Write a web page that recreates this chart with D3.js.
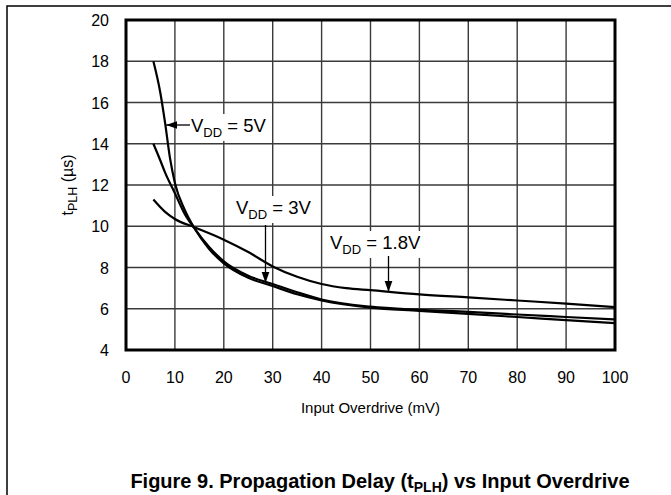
<!DOCTYPE html>
<html>
<head>
<meta charset="utf-8">
<script src="https://cdn.jsdelivr.net/npm/d3@7"></script>
<style>
  body { margin: 0; background: #fff; }
  svg { display: block; font-family: "Liberation Sans", Arial, sans-serif; }
</style>
</head>
<body>
<svg id="chart" width="671" height="495"></svg>
<script>
// propagation delay tPLH (us) vs input overdrive (mV), one curve per supply
const xTicks = [0, 10, 20, 30, 40, 50, 60, 70, 80, 90, 100];
const yTicks = [4, 6, 8, 10, 12, 14, 16, 18, 20];

const vdd5 = [[5.6, 18], [7, 16.5], [8, 15], [9, 13.3], [10, 12.1], [12, 10.8], [14, 9.9], [17, 8.9],
  [20, 8.2], [25, 7.5], [30, 7.1], [35, 6.7], [40, 6.4], [50, 6.05], [60, 5.9], [70, 5.75],
  [80, 5.6], [90, 5.45], [100, 5.3]];
const vdd3 = [[5.6, 14], [7, 13.2], [8, 12.6], [10, 11.6], [12, 10.6], [14, 9.9], [17, 9.0],
  [20, 8.3], [25, 7.6], [30, 7.2], [35, 6.8], [40, 6.45], [50, 6.1], [60, 5.95], [70, 5.85],
  [80, 5.72], [90, 5.6], [100, 5.48]];
const vdd18 = [[5.6, 11.3], [8, 10.7], [10, 10.35], [14, 9.95], [20, 9.35], [25, 8.75], [30, 8.05],
  [35, 7.55], [40, 7.2], [45, 7.0], [50, 6.9], [60, 6.7], [70, 6.55], [80, 6.4], [90, 6.25], [100, 6.08]];

const svg = d3.select("#chart");
const m = {left: 126, right: 615, top: 20, bottom: 350};

const x = d3.scaleLinear().domain([0, 100]).range([m.left, m.right]);
const y = d3.scaleLinear().domain([4, 20]).range([m.bottom, m.top]);

// outer figure frame (runs off the page to the right and bottom)
svg.append("path")
  .attr("d", "M7,500 L7,6 L680,6")
  .attr("fill", "none").attr("stroke", "#000").attr("stroke-width", 1.5);

// grid
const grid = svg.append("g").attr("stroke", "#3a3a3a").attr("stroke-width", 1.4);
grid.selectAll(".gx").data(xTicks.slice(1, -1)).join("line")
  .attr("x1", d => x(d)).attr("x2", d => x(d))
  .attr("y1", m.top).attr("y2", m.bottom);
grid.selectAll(".gy").data(yTicks.slice(1, -1)).join("line")
  .attr("y1", d => y(d)).attr("y2", d => y(d))
  .attr("x1", m.left).attr("x2", m.right);

// tick labels
svg.append("g").attr("font-size", 16).attr("text-anchor", "middle")
  .selectAll("text").data(xTicks).join("text")
  .attr("x", d => x(d)).attr("y", 383).text(d => d);
svg.append("g").attr("font-size", 16).attr("text-anchor", "end")
  .selectAll("text").data(yTicks).join("text")
  .attr("x", 109).attr("y", d => y(d) + 6).text(d => d);

// axis titles
svg.append("text").attr("x", (m.left + m.right) / 2).attr("y", 413)
  .attr("text-anchor", "middle").attr("font-size", 15).text("Input Overdrive (mV)");

const yl = svg.append("text")
  .attr("transform", `translate(73,${(m.top + m.bottom) / 2}) rotate(-90)`)
  .attr("text-anchor", "middle").attr("font-size", 16);
yl.append("tspan").text("t");
yl.append("tspan").attr("font-size", 12.5).attr("dy", 4).text("PLH");
yl.append("tspan").attr("dy", -4).text(" (\u00b5s)");

// annotation labels, white boxes hide the grid behind them
function vddLabel(px, py, val) {
  const g = svg.append("g");
  const bg = g.append("rect").attr("fill", "#fff");
  const t = g.append("text").attr("x", px).attr("y", py).attr("font-size", 18.5);
  t.append("tspan").text("V");
  t.append("tspan").attr("font-size", 13).attr("dy", 5).text("DD");
  t.append("tspan").attr("dy", -5).text(" = " + val);
  const b = t.node().getBBox();
  bg.attr("x", b.x - 2).attr("y", b.y - 1).attr("width", b.width + 4).attr("height", b.height + 2);
}
vddLabel(191, 132, "5V");
vddLabel(236, 214, "3V");
vddLabel(330, 249, "1.8V");

// curves
const line = d3.line().curve(d3.curveMonotoneX).x(d => x(d[0])).y(d => y(d[1]));
svg.append("g").attr("fill", "none").attr("stroke", "#000").attr("stroke-width", 2.2)
  .selectAll("path").data([vdd5, vdd3, vdd18]).join("path").attr("d", line);

// arrows
svg.append("defs").append("marker").attr("id", "ah")
  .attr("viewBox", "0 0 10 10").attr("refX", 10).attr("refY", 5)
  .attr("markerWidth", 11).attr("markerHeight", 11).attr("markerUnits", "userSpaceOnUse")
  .attr("orient", "auto")
  .append("path").attr("d", "M0,1.5 L10,5 L0,8.5 Z").attr("fill", "#000");

const arrows = [[190, 125, 166, 125], [265.5, 225, 265.5, 283], [388.5, 256, 388.5, 292]];
svg.append("g").selectAll("line").data(arrows).join("line")
  .attr("x1", d => d[0]).attr("y1", d => d[1]).attr("x2", d => d[2]).attr("y2", d => d[3])
  .attr("stroke", "#000").attr("stroke-width", 1.3).attr("marker-end", "url(#ah)");

// plot border
svg.append("rect").attr("x", m.left).attr("y", m.top)
  .attr("width", m.right - m.left).attr("height", m.bottom - m.top)
  .attr("fill", "none").attr("stroke", "#000").attr("stroke-width", 3);

// caption
const cap = svg.append("text").attr("x", 380).attr("y", 488)
  .attr("text-anchor", "middle").attr("font-size", 20).attr("font-weight", "bold");
cap.append("tspan").text("Figure 9. Propagation Delay (t");
cap.append("tspan").attr("font-size", 14).attr("dy", 4).text("PLH");
cap.append("tspan").attr("dy", -4).text(") vs Input Overdrive");
</script>
</body>
</html>
